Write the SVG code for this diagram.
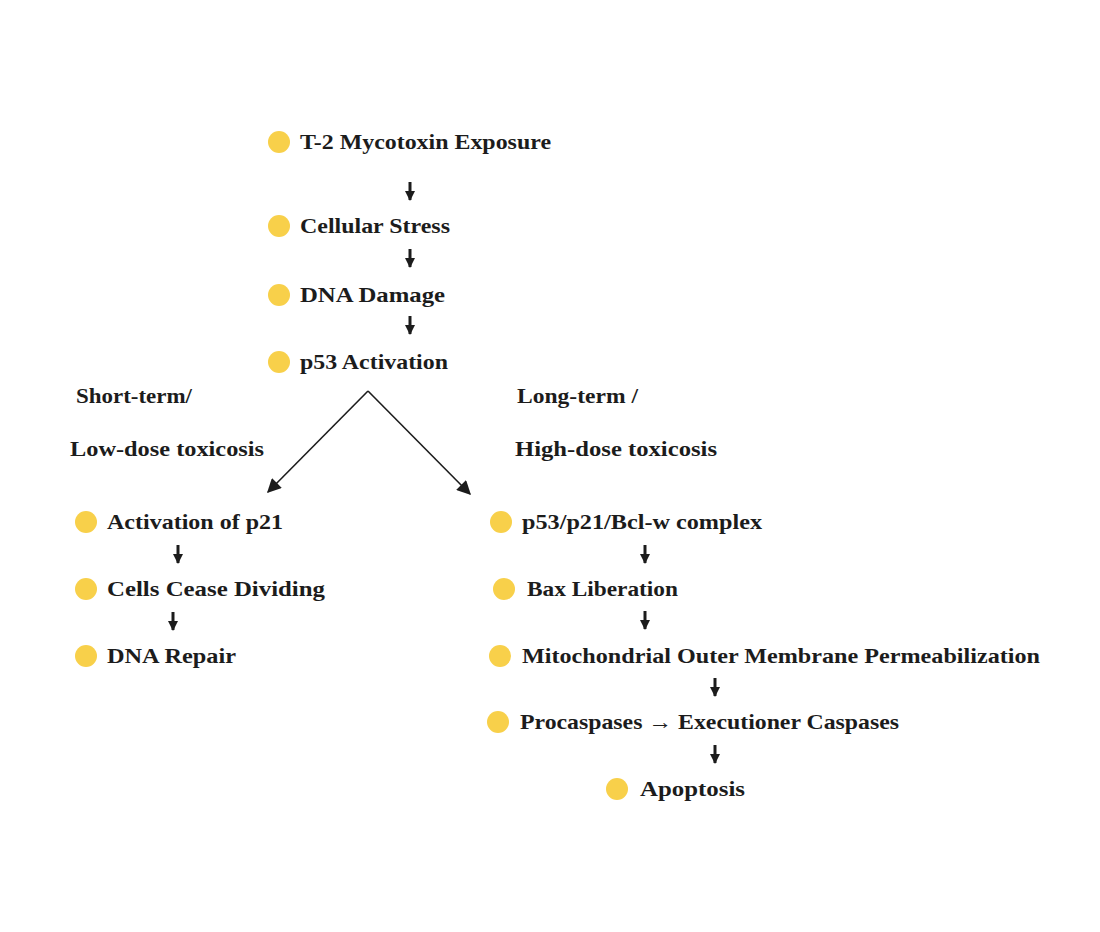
<svg xmlns="http://www.w3.org/2000/svg" width="1100" height="932" viewBox="0 0 1100 932">
<defs>
<style>
.t{font-family:"Liberation Serif","Times New Roman",serif;font-weight:bold;font-size:22px;fill:#1c1c1c}
.dot{fill:#F8D04A}
.c{stroke:#1c1c1c;stroke-width:3;fill:none}
.b{stroke:#1c1c1c;stroke-width:1.6;fill:none}
</style>
<marker id="ah" viewBox="0 0 10 10" refX="9" refY="5" markerWidth="10" markerHeight="10" markerUnits="userSpaceOnUse" orient="auto"><path d="M0,0 L10,5 L0,10 z" fill="#1c1c1c"/></marker>
<marker id="bh" viewBox="0 0 10 10" refX="9" refY="5" markerWidth="16" markerHeight="14" markerUnits="userSpaceOnUse" orient="auto"><path d="M0,0 L10,5 L0,10 z" fill="#1c1c1c"/></marker>
</defs>
<rect width="1100" height="932" fill="#ffffff"/>
<g id="n1"><circle class="dot" cx="279" cy="142" r="11"/><text class="t" x="300" y="149" textLength="251" lengthAdjust="spacingAndGlyphs">T-2 Mycotoxin Exposure</text></g>
<g id="n2"><circle class="dot" cx="279" cy="226" r="11"/><text class="t" x="300" y="233" textLength="150" lengthAdjust="spacingAndGlyphs">Cellular Stress</text></g>
<g id="n3"><circle class="dot" cx="279" cy="295" r="11"/><text class="t" x="300" y="302" textLength="145" lengthAdjust="spacingAndGlyphs">DNA Damage</text></g>
<g id="n4"><circle class="dot" cx="279" cy="362" r="11"/><text class="t" x="300" y="369" textLength="148" lengthAdjust="spacingAndGlyphs">p53 Activation</text></g>
<g id="lbl-short"><text class="t" x="76" y="403" textLength="116" lengthAdjust="spacingAndGlyphs">Short-term/</text><text class="t" x="70" y="456" textLength="194" lengthAdjust="spacingAndGlyphs">Low-dose toxicosis</text></g>
<g id="lbl-long"><text class="t" x="517" y="403" textLength="121" lengthAdjust="spacingAndGlyphs">Long-term /</text><text class="t" x="515" y="456" textLength="202" lengthAdjust="spacingAndGlyphs">High-dose toxicosis</text></g>
<g id="l1"><circle class="dot" cx="86" cy="522" r="11"/><text class="t" x="107" y="529" textLength="176" lengthAdjust="spacingAndGlyphs">Activation of p21</text></g>
<g id="l2"><circle class="dot" cx="86" cy="589" r="11"/><text class="t" x="107" y="596" textLength="218" lengthAdjust="spacingAndGlyphs">Cells Cease Dividing</text></g>
<g id="l3"><circle class="dot" cx="86" cy="656" r="11"/><text class="t" x="107" y="663" textLength="129" lengthAdjust="spacingAndGlyphs">DNA Repair</text></g>
<g id="r1"><circle class="dot" cx="501" cy="522" r="11"/><text class="t" x="522" y="529" textLength="240" lengthAdjust="spacingAndGlyphs">p53/p21/Bcl-w complex</text></g>
<g id="r2"><circle class="dot" cx="504" cy="589" r="11"/><text class="t" x="527" y="596" textLength="151" lengthAdjust="spacingAndGlyphs">Bax Liberation</text></g>
<g id="r3"><circle class="dot" cx="500" cy="656" r="11"/><text class="t" x="522" y="663" textLength="518" lengthAdjust="spacingAndGlyphs">Mitochondrial Outer Membrane Permeabilization</text></g>
<g id="r4"><circle class="dot" cx="498" cy="722" r="11"/><text class="t" x="520" y="729" textLength="379" lengthAdjust="spacingAndGlyphs">Procaspases → Executioner Caspases</text></g>
<g id="r5"><circle class="dot" cx="617" cy="789" r="11"/><text class="t" x="640" y="796" textLength="105" lengthAdjust="spacingAndGlyphs">Apoptosis</text></g>
<g id="connectors">
<line class="c" x1="410" y1="182" x2="410" y2="200" marker-end="url(#ah)"/>
<line class="c" x1="410" y1="249" x2="410" y2="267" marker-end="url(#ah)"/>
<line class="c" x1="410" y1="316" x2="410" y2="334" marker-end="url(#ah)"/>
<line class="b" x1="368" y1="391" x2="268" y2="492" marker-end="url(#bh)"/>
<line class="b" x1="368" y1="391" x2="470" y2="494" marker-end="url(#bh)"/>
<line class="c" x1="178" y1="545" x2="178" y2="563" marker-end="url(#ah)"/>
<line class="c" x1="173" y1="612" x2="173" y2="630" marker-end="url(#ah)"/>
<line class="c" x1="645" y1="545" x2="645" y2="563" marker-end="url(#ah)"/>
<line class="c" x1="645" y1="611" x2="645" y2="629" marker-end="url(#ah)"/>
<line class="c" x1="715" y1="678" x2="715" y2="696" marker-end="url(#ah)"/>
<line class="c" x1="715" y1="745" x2="715" y2="763" marker-end="url(#ah)"/>
</g>
</svg>
